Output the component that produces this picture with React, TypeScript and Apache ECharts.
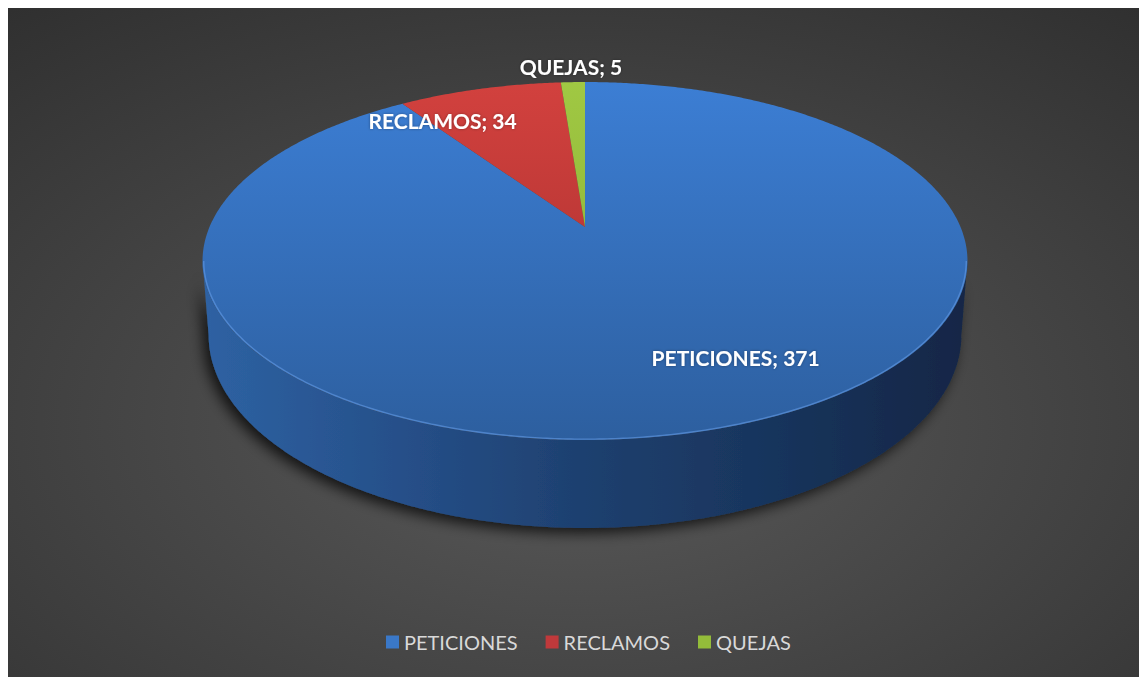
import React, { useEffect, useRef } from "react";
import * as echarts from "echarts";

// ---- data ----
const categories: string[] = ["PETICIONES", "RECLAMOS", "QUEJAS"];
const values: number[] = [371, 34, 5];

// ---- styles ----
const topColors: [string, string][] = [
  ["#3c7ed4", "#2d5f9f"],
  ["#d2413e", "#a22d2c"],
  ["#a0c843", "#84a931"],
];
const wallColors: string[][] = [
  ["#2e62a3", "#26508a", "#1e406f", "#18345c", "#132646"],
  ["#8e2a29", "#7a2322", "#661d1c", "#561818", "#451313"],
  ["#6f8d2a", "#627d25", "#546b1f", "#475a1a", "#3a4a15"],
];
const legendColors: string[] = ["#3a78c8", "#c0393b", "#93bc3a"];
const labelLayout = [
  { f: 0.7, dx: 62, dy: -2 },
  { f: 1.0, dx: -37, dy: 32 },
  { f: 1.0, dx: -2, dy: -16 },
];

// projection geometry (pixels inside the chart div)
const CX = 577;
const CY = 219;
const AR = 375.5;
const BR = 172.5;
const T = 0.19;
const DEPTH = 71.3;
const SB = 0.984;

function proj(theta: number, f: number, bottom: boolean): number[] {
  const u = f * Math.sin(theta);
  const v = f * Math.cos(theta);
  const w = 1 + T * v;
  let X = (AR * u) / w;
  let Y = (-BR * v) / w;
  if (bottom) {
    X *= SB;
    Y += DEPTH / w;
  }
  return [CX + X, CY + Y];
}

export default function App() {
  const ref = useRef<HTMLDivElement>(null);
  useEffect(() => {
    if (!ref.current) return;
    const chart = echarts.init(ref.current, undefined, { renderer: "svg" });
    const total = values.reduce((a, b) => a + b, 0);
    const starts: number[] = [];
    const ends: number[] = [];
    let acc = 0;
    values.forEach((v) => {
      starts.push((acc / total) * Math.PI * 2);
      acc += v;
      ends.push((acc / total) * Math.PI * 2);
    });
    const thL = Math.acos(-T);
    const thR = Math.PI * 2 - thL;
    const step = Math.PI / 360;

    const arc = (a: number, b: number, f: number, bottom: boolean) => {
      const pts: number[][] = [];
      const n = Math.max(2, Math.ceil((b - a) / step));
      for (let k = 0; k <= n; k++) pts.push(proj(a + ((b - a) * k) / n, f, bottom));
      return pts;
    };

    const wallItem = (params: any) => {
      const i = params.dataIndex;
      const lo = Math.max(starts[i], thL);
      const hi = Math.min(ends[i], thR);
      if (hi <= lo) return { type: "group", children: [] };
      const top = arc(lo, hi, 1, false);
      const bot = arc(lo, hi, 1, true).reverse();
      const wc = wallColors[i];
      return {
        type: "group",
        children: [
          {
            type: "polygon",
            shape: { points: top.concat(bot) },
            style: {
              fill: {
                type: "linear",
                x: CX - AR * 1.02,
                y: 0,
                x2: CX + AR * 1.02,
                y2: 0,
                global: true,
                colorStops: wc.map((c, k) => ({ offset: k / (wc.length - 1), color: c })),
              },
              shadowBlur: 14,
              shadowColor: "rgba(0,0,0,0.75)",
              shadowOffsetX: -5,
              shadowOffsetY: 5,
            },
          },
        ],
      };
    };

    const topItem = (params: any) => {
      const i = params.dataIndex;
      const a0 = starts[i];
      const a1 = ends[i];
      const pts = [proj(0, 0, false)].concat(arc(a0, a1, 1, false));
      const tc = topColors[i];
      const children: any[] = [
        {
          type: "polygon",
          shape: { points: pts },
          style: {
            fill: {
              type: "linear",
              x: 0,
              y: CY - 145,
              x2: 0,
              y2: CY + 213,
              global: true,
              colorStops: [
                { offset: 0, color: tc[0] },
                { offset: 1, color: tc[1] },
              ],
            },
          },
        },
      ];
      const lo = Math.max(a0, thL);
      const hi = Math.min(a1, thR);
      if (hi > lo) {
        children.push({
          type: "polyline",
          shape: { points: arc(lo, hi, 0.997, false) },
          style: { stroke: "rgba(100,155,230,0.6)", lineWidth: 1.4, fill: "none" },
        });
      }
      const mid = (a0 + a1) / 2;
      const L = labelLayout[i];
      const p = proj(mid, L.f, false);
      children.push({
        type: "text",
        x: p[0] + L.dx,
        y: p[1] + L.dy,
        z2: 100,
        style: {
          text: categories[i] + "; " + values[i],
          fill: "#ffffff",
          fontSize: 21,
          fontWeight: "bold",
          fontFamily: "Lato",
          align: "center",
          verticalAlign: "middle",
          textShadowColor: "rgba(0,0,0,0.35)",
          textShadowBlur: 3,
        },
      });
      return { type: "group", children };
    };

    chart.setOption({
      animation: false,
      backgroundColor: {
        type: "radial",
        x: 0.5,
        y: 0.62,
        r: 1.0,
        colorStops: [
          { offset: 0, color: "#5a5a5a" },
          { offset: 1, color: "#252525" },
        ],
      },
      legend: {
        left: 373,
        top: 619,
        itemWidth: 13,
        itemHeight: 13,
        itemGap: 28,
        icon: "rect",
        selectedMode: false,
        textStyle: { color: "#d9d9d9", fontSize: 20, fontFamily: "Lato" },
        data: categories,
      },
      series: [
        {
          type: "custom",
          name: "walls",
          coordinateSystem: "none",
          silent: true,
          z: 1,
          data: values,
          renderItem: (params: any) => wallItem(params),
        },
        {
          type: "custom",
          name: "tops",
          coordinateSystem: "none",
          silent: true,
          z: 2,
          data: values,
          renderItem: (params: any) => topItem(params),
        },
        {
          type: "pie",
          radius: [0, 0],
          center: [-100, -100],
          silent: true,
          label: { show: false },
          labelLine: { show: false },
          data: categories.map((c, i) => ({
            name: c,
            value: values[i],
            itemStyle: { color: legendColors[i] },
          })),
        },
      ],
    });
    return () => chart.dispose();
  }, []);
  return <div ref={ref} style={{ width: 1139, height: 669 }} />;
}
